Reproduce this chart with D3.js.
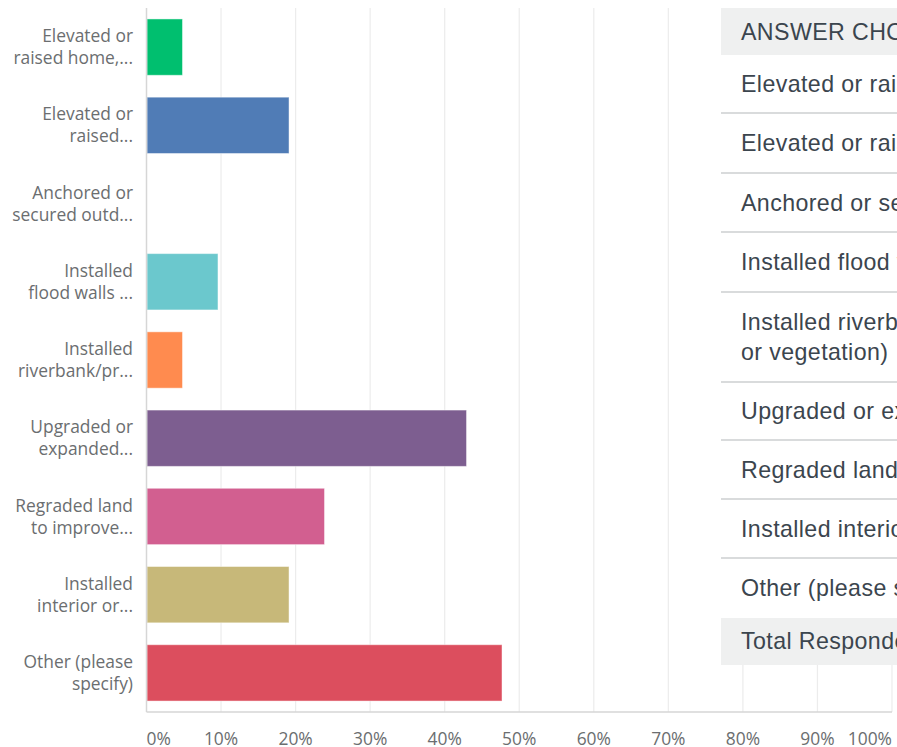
<!DOCTYPE html>
<html>
<head>
<meta charset="utf-8">
<script src="https://cdn.jsdelivr.net/npm/d3@7"></script>
<style>
  html, body { margin: 0; padding: 0; background: #fff; overflow: hidden; }
  svg { display: block; }
</style>
</head>
<body>
<svg id="chart" width="897" height="747"></svg>
<script>
// ---- data ----
const categoryLabels = [
  ["Elevated or", "raised home,..."],
  ["Elevated or", "raised..."],
  ["Anchored or", "secured outd..."],
  ["Installed", "flood walls ..."],
  ["Installed", "riverbank/pr..."],
  ["Upgraded or", "expanded..."],
  ["Regraded land", "to improve..."],
  ["Installed", "interior or..."],
  ["Other (please", "specify)"]
];
const percentValues = [4.76, 19.05, 0, 9.52, 4.76, 42.86, 23.81, 19.05, 47.62];
const barColors = ["#00bf6f", "#507cb6", "#9b9b9b", "#6bc8cd", "#ff8b4f", "#7d5e90", "#d25f90", "#c7b879", "#dc4e5e"];
const tickValues = [0, 10, 20, 30, 40, 50, 60, 70, 80, 90, 100];
const tableHeader = "ANSWER CHOICES";
const tableRows = [
  ["Elevated or raised home, business, or structure"],
  ["Elevated or raised utilities or equipment"],
  ["Anchored or secured outdoor items"],
  ["Installed flood walls or barriers"],
  ["Installed riverbank/property protection (e.g., riprap", "or vegetation)"],
  ["Upgraded or expanded drainage systems"],
  ["Regraded land to improve drainage"],
  ["Installed interior or exterior drainage"],
  ["Other (please specify)"]
];
const tableTotal = "Total Respondents: 21";

// ---- layout ----
const svg = d3.select("#chart");
const plot = { left: 146.5, right: 892, top: 8, bottom: 712 };

const x = d3.scaleLinear().domain([0, 100]).range([plot.left, plot.right]);
const y = d3.scaleBand()
  .domain(d3.range(categoryLabels.length))
  .range([plot.top, plot.bottom])
  .paddingInner(0.28)
  .paddingOuter(0.14);

const labelFont = "'Open Sans', 'Noto Sans', sans-serif";
const labelSize = 17.4;

// gridlines
svg.append("g")
  .selectAll("line")
  .data(tickValues.filter(d => d > 0))
  .join("line")
  .attr("x1", d => x(d)).attr("x2", d => x(d))
  .attr("y1", plot.top).attr("y2", plot.bottom)
  .attr("stroke", "#ececec").attr("stroke-width", 1.2);

// bars
svg.append("g")
  .selectAll("rect")
  .data(percentValues)
  .join("rect")
  .attr("x", x(0) + 0.5)
  .attr("y", (d, i) => y(i))
  .attr("width", d => Math.max(0, x(d) - x(0)))
  .attr("height", y.bandwidth())
  .attr("fill", (d, i) => barColors[i])
  .attr("stroke", "rgba(255,255,255,0.45)")
  .attr("stroke-width", 1)
  .attr("opacity", d => d > 0 ? 1 : 0);

// axis lines
svg.append("line")
  .attr("x1", plot.left).attr("x2", plot.left)
  .attr("y1", plot.top).attr("y2", plot.bottom)
  .attr("stroke", "#d6d6d6").attr("stroke-width", 1.5);
svg.append("line")
  .attr("x1", plot.left).attr("x2", plot.right)
  .attr("y1", plot.bottom).attr("y2", plot.bottom)
  .attr("stroke", "#d6d6d6").attr("stroke-width", 1.5);

// category labels
const labG = svg.append("g");
categoryLabels.forEach((lines, i) => {
  const cy = y(i) + y.bandwidth() / 2;
  const t = labG.append("text")
    .attr("x", 133)
    .attr("text-anchor", "end")
    .attr("font-family", labelFont)
    .attr("font-size", labelSize)
    .attr("fill", "#6b6e70");
  lines.forEach((ln, j) => {
    t.append("tspan")
      .attr("x", 133)
      .attr("y", cy + (j - (lines.length - 1) / 2) * 22)
      .attr("dy", "0.35em")
      .text(ln);
  });
});

// x tick labels
svg.append("g")
  .selectAll("text")
  .data(tickValues)
  .join("text")
  .attr("x", d => x(d))
  .attr("y", 739)
  .attr("dy", "0.35em")
  .attr("text-anchor", (d, i) => i === 0 ? "start" : (i === tickValues.length - 1 ? "end" : "middle"))
  .attr("font-family", labelFont)
  .attr("font-size", labelSize)
  .attr("fill", "#6b6e70")
  .text(d => d + "%");

// ---- table overlay ----
const tbl = svg.append("g");
const tx = 721, textX = 741;
const tableFont = "'Liberation Sans', Arial, sans-serif";
const tableSize = 23.2;
const rowBounds = [55, 113, 173, 232, 292, 382, 440, 499, 558, 618];

tbl.append("rect")
  .attr("x", tx).attr("y", 8).attr("width", 897 - tx).attr("height", 657)
  .attr("fill", "#ffffff");
tbl.append("rect")
  .attr("x", tx).attr("y", 8).attr("width", 897 - tx).attr("height", 47)
  .attr("fill", "#eff0f0");
tbl.append("rect")
  .attr("x", tx).attr("y", 618).attr("width", 897 - tx).attr("height", 47)
  .attr("fill", "#eff0f0");

function tableText(sel) {
  return sel.attr("font-family", tableFont)
    .attr("font-size", tableSize)
    .attr("letter-spacing", 0.4)
    .attr("fill", "#3b454e");
}

tableText(tbl.append("text"))
  .attr("x", textX).attr("y", 32).attr("dy", "0.35em")
  .text(tableHeader);

tableRows.forEach((lines, i) => {
  const top = rowBounds[i], bot = rowBounds[i + 1];
  const cy = (top + bot) / 2;
  const t = tableText(tbl.append("text"));
  lines.forEach((ln, j) => {
    t.append("tspan")
      .attr("x", textX)
      .attr("y", cy + (j - (lines.length - 1) / 2) * 30)
      .attr("dy", "0.35em")
      .text(ln);
  });
  if (i < tableRows.length - 1) {
    tbl.append("line")
      .attr("x1", tx).attr("x2", 897)
      .attr("y1", bot).attr("y2", bot)
      .attr("stroke", "#d9dbdc").attr("stroke-width", 2);
  }
});

tableText(tbl.append("text"))
  .attr("x", textX).attr("y", 641).attr("dy", "0.35em")
  .text(tableTotal);
</script>
</body>
</html>
